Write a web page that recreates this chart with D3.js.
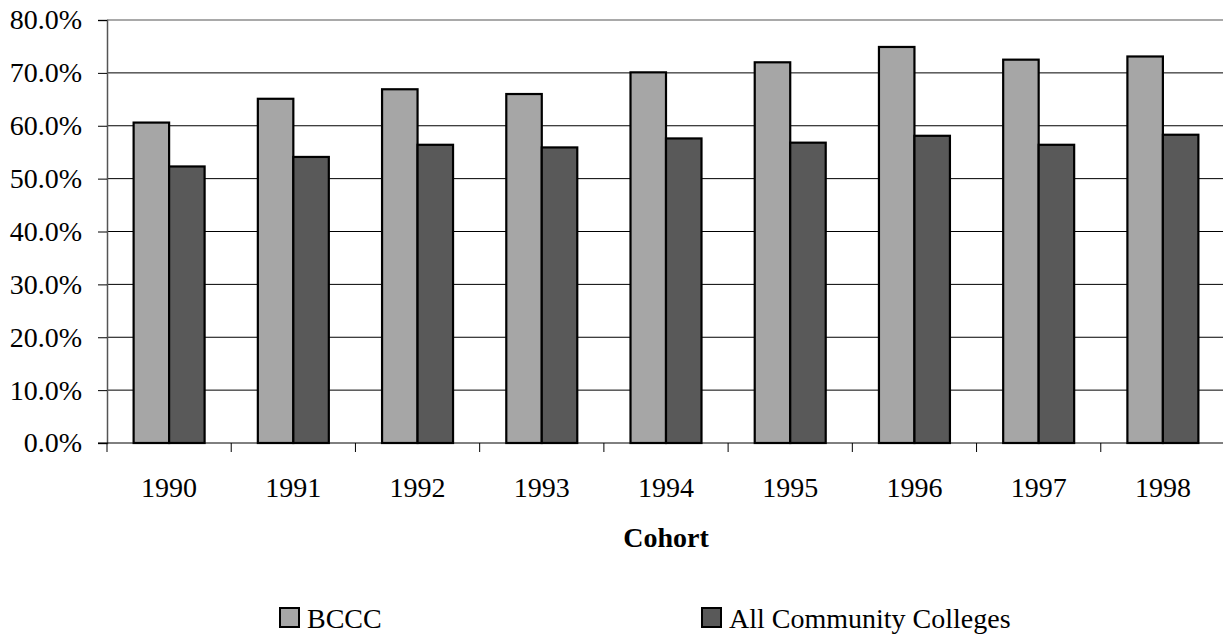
<!DOCTYPE html>
<html lang="en">
  <head>
    <meta charset="UTF-8" />
    <title>Cohort chart</title>
    <style>
      body {
        margin: 0;
        background: #fff;
      }
      text {
        font-family: "Liberation Serif", "Times New Roman", serif;
        fill: #000;
      }
    </style>
  </head>
  <body>
    <svg id="container" width="1223" height="635"></svg>
  </body>
  <script src="https://cdn.jsdelivr.net/npm/d3@7"></script>
  <script>
    let cohorts = ["1990", "1991", "1992", "1993", "1994", "1995", "1996", "1997", "1998"];
    let bccc = [60.6, 65.1, 66.9, 66.0, 70.1, 72.0, 74.9, 72.5, 73.1];
    let allColleges = [52.3, 54.1, 56.4, 55.9, 57.6, 56.8, 58.1, 56.4, 58.3];
    let seriesNames = ["BCCC", "All Community Colleges"];
    let seriesColors = ["#a6a6a6", "#595959"];
    let yTicks = [0, 10, 20, 30, 40, 50, 60, 70, 80];

    let svg = d3.select("#container");
    let plotLeft = 107,
      plotRight = 1225,
      plotTop = 20,
      plotBottom = 443;

    let x = d3.scaleBand().domain(cohorts).range([plotLeft, plotRight]);
    let inner = d3
      .scaleBand()
      .domain(seriesNames)
      .range([0, x.bandwidth()])
      .paddingOuter(0.75)
      .paddingInner(0);
    let y = d3.scaleLinear().domain([0, 80]).range([plotBottom, plotTop]);

    // gridlines
    svg
      .append("g")
      .selectAll("line")
      .data(yTicks.filter((d) => d > 0))
      .join("line")
      .attr("x1", plotLeft)
      .attr("x2", plotRight)
      .attr("y1", (d) => y(d))
      .attr("y2", (d) => y(d))
      .attr("stroke", (d) => (d === 80 ? "#8c8c8c" : "#000"))
      .attr("stroke-width", (d) => (d === 80 ? 1.5 : 1));

    // bars
    let rows = cohorts.map((c, i) => ({ c: c, vals: [bccc[i], allColleges[i]] }));
    let groups = svg
      .append("g")
      .selectAll("g")
      .data(rows)
      .join("g")
      .attr("transform", (d) => `translate(${x(d.c)},0)`);
    groups
      .selectAll("rect")
      .data((d) => d.vals.map((v, j) => ({ v: v, s: seriesNames[j], j: j })))
      .join("rect")
      .attr("x", (d) => inner(d.s))
      .attr("width", inner.bandwidth())
      .attr("y", (d) => y(d.v))
      .attr("height", (d) => y(0) - y(d.v))
      .attr("fill", (d) => seriesColors[d.j])
      .attr("stroke", "#000")
      .attr("stroke-width", 2.2);

    // y axis
    let yAxis = svg
      .append("g")
      .attr("transform", `translate(${plotLeft},0)`)
      .call(
        d3
          .axisLeft(y)
          .tickValues(yTicks)
          .tickSize(9)
          .tickPadding(16)
          .tickFormat((d) => d.toFixed(1) + "%")
      );
    yAxis.select(".domain").attr("stroke", "#555").attr("stroke-width", 1.5);
    yAxis.selectAll(".tick line").attr("stroke", "#000");
    yAxis
      .selectAll("text")
      .style("font-size", "28px")
      .style("font-family", "'Liberation Serif', serif")
      .attr("fill", "#000");

    // x axis
    let xAxis = svg.append("g").attr("transform", `translate(0,${plotBottom})`);
    xAxis
      .append("line")
      .attr("x1", plotLeft - 9)
      .attr("x2", plotRight)
      .attr("stroke", "#000")
      .attr("stroke-width", 1);
    xAxis
      .selectAll(".tk")
      .data(cohorts.concat(["end"]))
      .join("line")
      .attr("class", "tk")
      .attr("x1", (d, i) => plotLeft + i * x.step())
      .attr("x2", (d, i) => plotLeft + i * x.step())
      .attr("y1", 0)
      .attr("y2", 9)
      .attr("stroke", "#000");
    xAxis
      .selectAll("text")
      .data(cohorts)
      .join("text")
      .attr("x", (d) => x(d) + x.bandwidth() / 2)
      .attr("y", 54)
      .attr("text-anchor", "middle")
      .style("font-size", "28px")
      .text((d) => d);

    svg
      .append("text")
      .attr("x", 666)
      .attr("y", 547)
      .attr("text-anchor", "middle")
      .style("font-size", "28px")
      .style("font-weight", "bold")
      .text("Cohort");

    // legend
    let legendX = [280, 702];
    let legend = svg
      .append("g")
      .selectAll("g")
      .data(seriesNames)
      .join("g")
      .attr("transform", (d, i) => `translate(${legendX[i]},608)`);
    legend
      .append("rect")
      .attr("width", 19)
      .attr("height", 19)
      .attr("fill", (d, i) => seriesColors[i])
      .attr("stroke", "#000")
      .attr("stroke-width", 2);
    legend
      .append("text")
      .attr("x", 27)
      .attr("y", 20)
      .style("font-size", "28px")
      .text((d) => d);
  </script>
</html>
